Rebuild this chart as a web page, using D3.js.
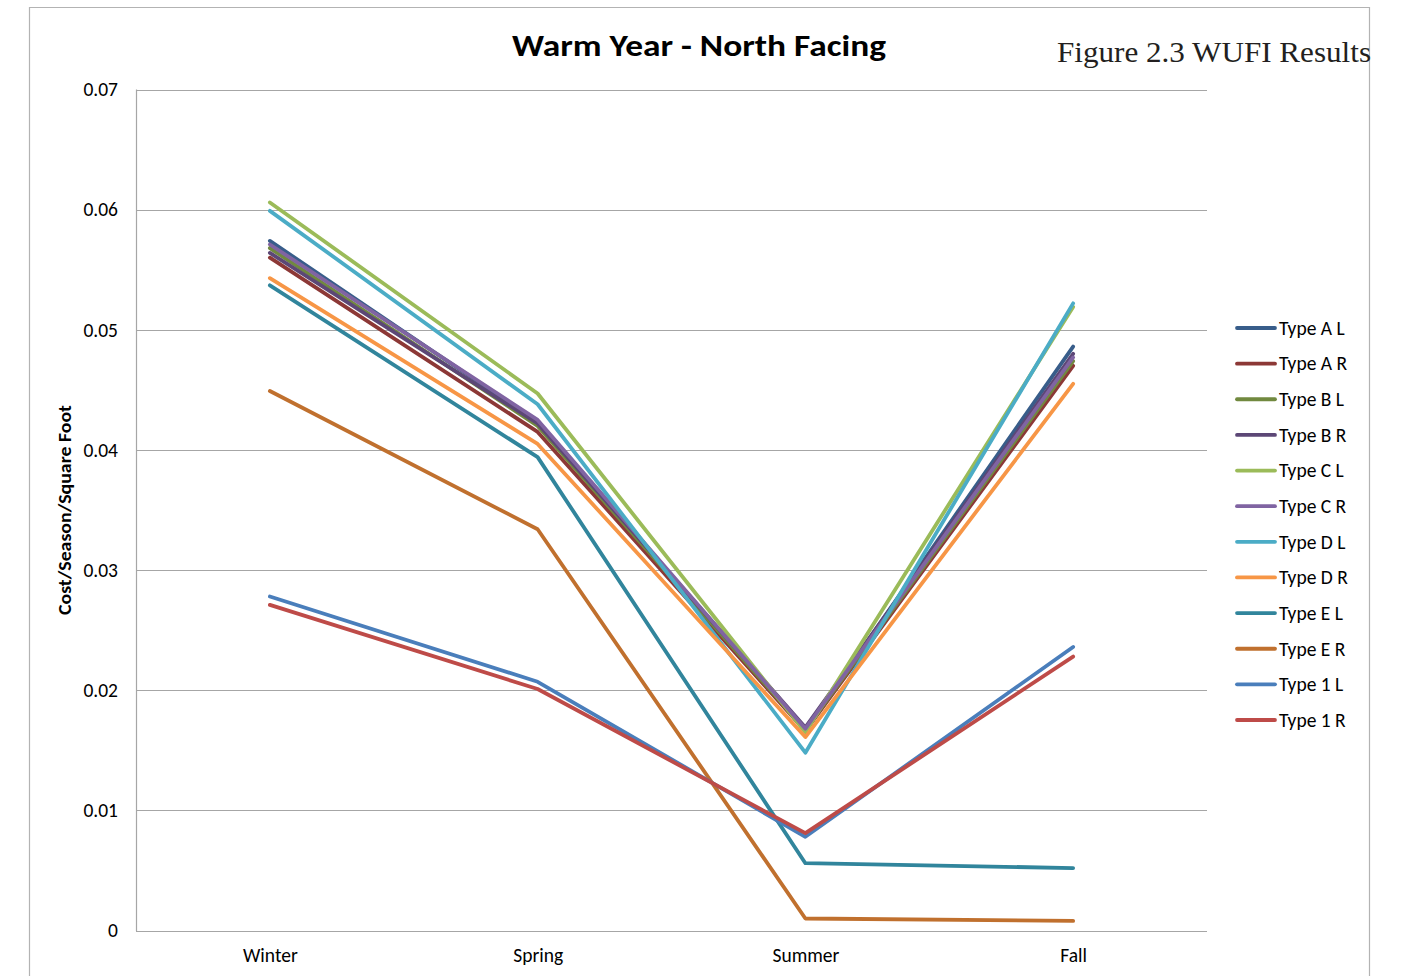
<!DOCTYPE html>
<html>
<head>
<meta charset="utf-8">
<script src="https://cdn.jsdelivr.net/npm/d3@7"></script>
<style>
  html, body { margin: 0; padding: 0; background: #fff; }
  svg { display: block; }
</style>
</head>
<body>
<svg id="chart" width="1408" height="976"></svg>
<script>
// Seasons on the x axis
const seasons = ["Winter", "Spring", "Summer", "Fall"];

// Series names, in legend order
const seriesNames = ["Type A L", "Type A R", "Type B L", "Type B R", "Type C L", "Type C R",
                     "Type D L", "Type D R", "Type E L", "Type E R", "Type 1 L", "Type 1 R"];

// Cost per season per square foot, one array per series (Winter, Spring, Summer, Fall)
const typeAL = [0.0574, 0.0423, 0.0167, 0.0486];
const typeAR = [0.0560, 0.0415, 0.0166, 0.0470];
const typeBL = [0.0568, 0.0420, 0.0167, 0.0474];
const typeBR = [0.0564, 0.0422, 0.0169, 0.0480];
const typeCL = [0.0606, 0.0447, 0.0165, 0.0519];
const typeCR = [0.0571, 0.0425, 0.0168, 0.0477];
const typeDL = [0.0599, 0.0438, 0.0148, 0.0522];
const typeDR = [0.0543, 0.0405, 0.0161, 0.0455];
const typeEL = [0.0537, 0.0394, 0.0056, 0.0052];
const typeER = [0.0449, 0.0334, 0.0010, 0.0008];
const type1L = [0.0278, 0.0207, 0.0078, 0.0236];
const type1R = [0.0271, 0.0201, 0.0081, 0.0228];

const seriesValues = [typeAL, typeAR, typeBL, typeBR, typeCL, typeCR,
                      typeDL, typeDR, typeEL, typeER, type1L, type1R];

const seriesColors = ["#385d8a", "#8c3836", "#71893f", "#5c4776", "#9bbb59", "#8064a2",
                      "#4bacc6", "#f79646", "#31859c", "#c0702e", "#4a7ebb", "#be4b48"];

// Y axis ticks
const yTicks = [0, 0.01, 0.02, 0.03, 0.04, 0.05, 0.06, 0.07];
const yTickLabels = ["0", "0.01", "0.02", "0.03", "0.04", "0.05", "0.06", "0.07"];

const chartTitle = "Warm Year - North Facing";
const figureCaption = "Figure 2.3 WUFI Results";
const yAxisTitle = "Cost/Season/Square Foot";

const svg = d3.select("#chart");
const font = "Calibri, Carlito, 'Open Sans', 'Liberation Sans', sans-serif";
const labelSize = 19.5;

const plot = { left: 136, right: 1207, top: 89.5, bottom: 930.5 };

const x = d3.scalePoint().domain(seasons).range([plot.left, plot.right]).padding(0.5);
const y = d3.scaleLinear().domain([0, 0.07]).range([plot.bottom, plot.top]);

// Outer chart frame
svg.append("path")
  .attr("d", "M29.5,976 V7.5 H1369.5 V976")
  .attr("fill", "none").attr("stroke", "#b3b3b3").attr("stroke-width", 1.2);

// Gridlines
svg.append("g").selectAll("line").data(yTicks).join("line")
  .attr("x1", plot.left).attr("x2", plot.right)
  .attr("y1", d => Math.round(y(d)) + 0.5).attr("y2", d => Math.round(y(d)) + 0.5)
  .attr("stroke", "#a6a6a6").attr("stroke-width", 1.2);

// Left axis line
svg.append("line")
  .attr("x1", plot.left + 0.5).attr("x2", plot.left + 0.5)
  .attr("y1", y(0.07)).attr("y2", y(0) + 0.5)
  .attr("stroke", "#a6a6a6").attr("stroke-width", 1.2);

// Y tick labels
const yAxis = d3.axisLeft(y).tickValues(yTicks)
  .tickFormat((d, i) => yTickLabels[i]).tickSize(0).tickPadding(18);
const yg = svg.append("g").attr("transform", `translate(${plot.left},0)`).call(yAxis);
yg.select(".domain").remove();
yg.selectAll("text").attr("font-family", font).attr("font-size", labelSize).attr("fill", "#000");

// X tick labels
const xAxis = d3.axisBottom(x).tickSize(0).tickPadding(18);
const xg = svg.append("g").attr("transform", `translate(0,${plot.bottom})`).call(xAxis);
xg.select(".domain").remove();
xg.selectAll("text").attr("font-family", font).attr("font-size", labelSize).attr("fill", "#000");

// Series lines
const line = d3.line().x((d, i) => x(seasons[i])).y(d => y(d));
svg.append("g").selectAll("path").data(seriesValues).join("path")
  .attr("d", line)
  .attr("fill", "none")
  .attr("stroke", (d, i) => seriesColors[i])
  .attr("stroke-width", 3.8)
  .attr("stroke-linejoin", "round")
  .attr("stroke-linecap", "round");

// Legend
const legend = svg.append("g");
const legendY = d3.scalePoint().domain(seriesNames).range([328, 720]);
const items = legend.selectAll("g").data(seriesNames).join("g")
  .attr("transform", d => `translate(0,${legendY(d)})`);
items.append("line")
  .attr("x1", 1237).attr("x2", 1275)
  .attr("stroke", (d, i) => seriesColors[i]).attr("stroke-width", 3.8)
  .attr("stroke-linecap", "round");
items.append("text")
  .attr("x", 1279).attr("y", 0).attr("dy", "0.35em")
  .attr("font-family", font).attr("font-size", labelSize).attr("fill", "#000")
  .text(d => d);

// Chart title
svg.append("text")
  .attr("x", 699).attr("y", 56)
  .attr("text-anchor", "middle")
  .attr("font-family", font).attr("font-weight", "bold").attr("font-size", 30)
  .attr("textLength", 374).attr("lengthAdjust", "spacingAndGlyphs")
  .text(chartTitle);

// Figure caption
svg.append("text")
  .attr("x", 1057).attr("y", 62)
  .attr("font-family", "'Liberation Serif', 'DejaVu Serif', serif").attr("font-size", 30)
  .attr("fill", "#231f20")
  .attr("textLength", 314).attr("lengthAdjust", "spacingAndGlyphs")
  .text(figureCaption);

// Y axis title
svg.append("text")
  .attr("transform", "translate(71,510) rotate(-90)")
  .attr("text-anchor", "middle")
  .attr("font-family", font).attr("font-weight", "bold").attr("font-size", 17)
  .attr("textLength", 210).attr("lengthAdjust", "spacingAndGlyphs")
  .text(yAxisTitle);
</script>
</body>
</html>
